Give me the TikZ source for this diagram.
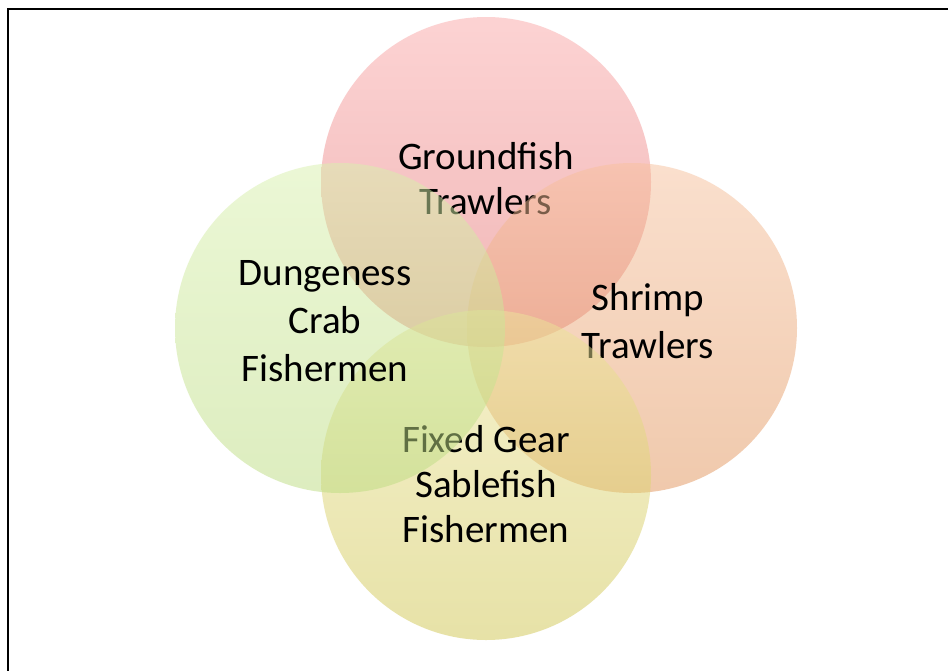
\documentclass[tikz,border=0pt]{standalone}
\usepackage{fontspec}
\setmainfont{Carlito}
\definecolor{pinkT}{RGB}{251,168,168}
\definecolor{pinkB}{RGB}{226,110,110}
\definecolor{greenT}{RGB}{217,241,173}
\definecolor{greenB}{RGB}{188,220,128}
\definecolor{peachT}{RGB}{247,193,157}
\definecolor{peachB}{RGB}{226,148,90}
\definecolor{yellowT}{RGB}{237,229,155}
\definecolor{yellowB}{RGB}{208,198,80}
\tikzset{
  bubble/.style={circle, minimum size=330pt, inner sep=0pt, fill opacity=0.5, draw=none},
  lbl/.style={align=center, font=\fontsize{39}{45}\selectfont, text=black, inner sep=0pt}
}
\begin{document}
\begin{tikzpicture}[x=1pt,y=-1pt]
\useasboundingbox (0,0) rectangle (948,670);
\fill[white] (0,0) rectangle (948,670);
\draw[line width=2pt] (8,672) -- (8,9) -- (950,9);
% top
\node[bubble, top color=pinkT, bottom color=pinkB] (top) at (486,182) {};
\node[lbl] (topl) at (486,179) {Groundfish\\Trawlers};
% right
\node[bubble, top color=peachT, bottom color=peachB] (right) at (632,328) {};
\node[lbl, font=\fontsize{39}{48}\selectfont] (rightl) at (648,321) {Shrimp\\Trawlers};
% bottom
\node[bubble, top color=yellowT, bottom color=yellowB] (bottom) at (486,475) {};
\node[lbl] (bottoml) at (486,484) {Fixed Gear\\Sablefish\\Fishermen};
% left
\node[bubble, top color=greenT, bottom color=greenB] (left) at (340,328) {};
\node[lbl, font=\fontsize{39}{48}\selectfont] (leftl) at (325,321) {Dungeness\\Crab\\Fishermen};
\end{tikzpicture}
\end{document}
